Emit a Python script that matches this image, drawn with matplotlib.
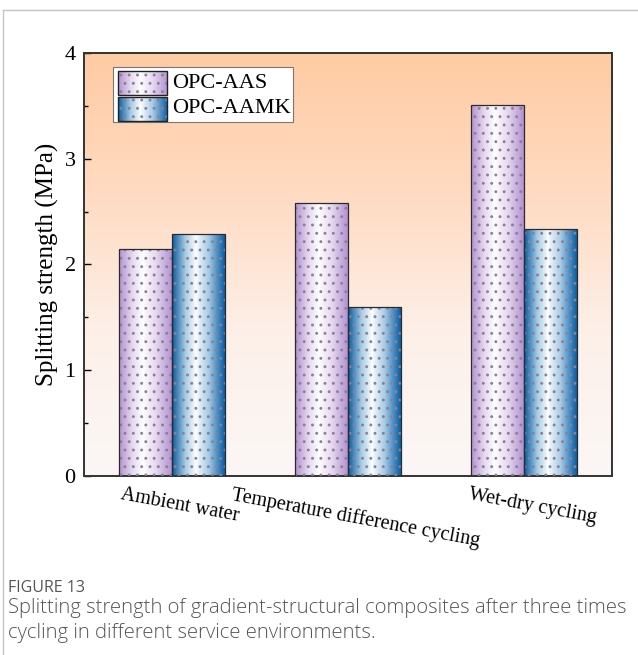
import matplotlib.pyplot as plt
import numpy as np
from matplotlib.colors import LinearSegmentedColormap
from matplotlib.patches import Rectangle
from matplotlib.lines import Line2D
from matplotlib.transforms import ScaledTranslation

groups = ['Ambient water', 'Temperature difference cycling', 'Wet-dry cycling']
series = ['OPC-AAS', 'OPC-AAMK']
aas = [2.15, 2.58, 3.51]
aamk = [2.29, 1.60, 2.34]

plt.rcParams['font.family'] = ['Liberation Serif', 'DejaVu Serif']
plt.rcParams['hatch.linewidth'] = 0.9

purple = LinearSegmentedColormap.from_list('pu', ['#ffffff', '#e6d9f0', '#b493d2'])
blue = LinearSegmentedColormap.from_list('bl', ['#ffffff', '#a9cbe6', '#0a5fa6'])
bg = LinearSegmentedColormap.from_list('bg', ['#fbf7f6', '#fdf0e9', '#ffdbc2', '#ffcba3'])


def side_profile(n=80, c=0.45, p=0.85):
    # white in the middle, colour at both sides
    t = np.linspace(0, 1, n)
    v = np.where(t < c, (c - t) / c, (t - c) / (1 - c))
    return (v ** p).reshape(1, -1)


def gradient_bars(ax, rects, cmap):
    for r in rects:
        x, w, h = r.get_x(), r.get_width(), r.get_height()
        im = ax.imshow(side_profile(), cmap=cmap, vmin=0, vmax=1, aspect='auto',
                       extent=[x, x + w, 0, h], zorder=2, interpolation='bilinear')
        im.set_clip_path(r)


fig = plt.figure(figsize=(6.38, 6.55), dpi=100)
ax = fig.add_axes([0.1317, 0.2733, 0.8276, 0.6458])

# background gradient
ax.imshow(np.linspace(0, 1, 256).reshape(-1, 1), cmap=bg, origin='lower', aspect='auto',
          extent=[0, 1, 0, 1], transform=ax.transAxes, zorder=0)

ind = np.arange(len(groups))
width = 0.3

r1 = ax.bar(ind - width / 2, aas, width, facecolor='none', edgecolor='none', zorder=1)
r2 = ax.bar(ind + width / 2, aamk, width, facecolor='none', edgecolor='none', zorder=1)
gradient_bars(ax, r1, purple)
gradient_bars(ax, r2, blue)
# dot pattern and outline
for vals, off in ((aas, -width / 2), (aamk, width / 2)):
    ax.bar(ind + off, vals, width, facecolor='none', edgecolor='#8a8294', hatch='..',
           linewidth=0, zorder=3)
    ax.bar(ind + off, vals, width, facecolor='none', edgecolor='#2b2b2b',
           linewidth=0.9, zorder=4)

ax.set_xlim(-0.5, 2.5)
ax.set_ylim(0, 4)
ax.set_yticks([0, 1, 2, 3, 4])
ax.set_yticks([0.5, 1.5, 2.5, 3.5], minor=True)
ax.tick_params(axis='y', which='major', direction='in', length=5, width=1, labelsize=16, pad=6)
ax.tick_params(axis='y', which='minor', direction='in', length=3, width=1)
ax.set_ylabel('Splitting strength (MPa)', fontsize=18, labelpad=4)

ax.set_xticks(ind)
ax.set_xticklabels(groups, rotation=-10.5, ha='center', fontsize=14.5)
ax.tick_params(axis='x', length=0, pad=7)
for lab in ax.get_xticklabels():
    lab.set_transform(lab.get_transform() + ScaledTranslation(0.08, 0, fig.dpi_scale_trans))

for s in ax.spines.values():
    s.set_linewidth(1.4)
    s.set_color('#333333')

# legend box drawn by hand so the swatches keep the gradient
ax.add_patch(Rectangle((0.055, 0.837), 0.34, 0.131, transform=ax.transAxes,
                       facecolor='white', edgecolor='#777777', linewidth=0.8, zorder=5))
for i, (name, cmap) in enumerate(zip(series, (purple, blue))):
    y0 = 0.901 - i * 0.061
    ax.imshow(side_profile(), cmap=cmap, vmin=0, vmax=1, aspect='auto',
              extent=[0.064, 0.157, y0, y0 + 0.056], transform=ax.transAxes,
              zorder=6, interpolation='bilinear')
    ax.add_patch(Rectangle((0.064, y0), 0.093, 0.056, transform=ax.transAxes,
                           facecolor='none', edgecolor='#8a8294', hatch='..',
                           linewidth=0, zorder=7))
    ax.add_patch(Rectangle((0.064, y0), 0.093, 0.056, transform=ax.transAxes,
                           facecolor='none', edgecolor='#222222', linewidth=1.0, zorder=8))
    ax.text(0.167, y0 + 0.028, name, transform=ax.transAxes, fontsize=16,
            va='center', ha='left', zorder=9)

ax.set_xlim(-0.5, 2.5)
ax.set_ylim(0, 4)

# page frame and caption
fig.add_artist(Line2D([0.0047, 1.0], [0.9847, 0.9847], transform=fig.transFigure,
                      color='#c4c4c4', linewidth=1.0))
fig.add_artist(Line2D([0.0047, 0.0047], [0.0, 0.9847], transform=fig.transFigure,
                      color='#c4c4c4', linewidth=1.0))
cap = dict(family=['Open Sans', 'DejaVu Sans'], va='center', ha='left')
fig.text(0.0125, 0.1025, 'FIGURE 13', fontsize=11.5, color='#555555', **cap)
fig.text(0.0125, 0.072, 'Splitting strength of gradient-structural composites after three times',
         fontsize=14.6, color='#555555', fontweight='light', **cap)
fig.text(0.0125, 0.033, 'cycling in different service environments.',
         fontsize=14.6, color='#555555', fontweight='light', **cap)

fig.savefig('out.png', dpi=100)
